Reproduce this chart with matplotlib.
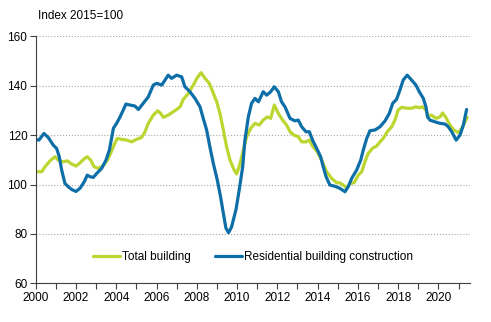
import matplotlib.pyplot as plt

plt.rcParams['font.family'] = ['Liberation Sans', 'DejaVu Sans']

# Total building
total_x = [2000.0, 2000.3, 2000.46, 2000.71, 2000.96, 2001.12, 2001.34, 2001.57, 2001.79, 2002.0,
           2002.2, 2002.4, 2002.56, 2002.73, 2002.9, 2003.11, 2003.33, 2003.56, 2003.72, 2003.89,
           2004.05, 2004.27, 2004.52, 2004.77, 2005.01, 2005.26, 2005.43, 2005.59, 2005.84, 2006.06,
           2006.21, 2006.34, 2006.58, 2006.83, 2007.0, 2007.17, 2007.33, 2007.58, 2007.83, 2008.0,
           2008.21, 2008.41, 2008.62, 2008.79, 2008.99, 2009.15, 2009.32, 2009.48, 2009.65, 2009.85,
           2009.98, 2010.14, 2010.31, 2010.48, 2010.68, 2010.89, 2011.1, 2011.3, 2011.5, 2011.67,
           2011.85, 2012.05, 2012.26, 2012.46, 2012.63, 2012.83, 2013.04, 2013.21, 2013.42, 2013.59,
           2013.75, 2013.98, 2014.2, 2014.45, 2014.7, 2014.95, 2015.11, 2015.27, 2015.44, 2015.61,
           2015.81, 2016.02, 2016.19, 2016.35, 2016.51, 2016.73, 2016.93, 2017.1, 2017.26, 2017.46,
           2017.68, 2017.84, 2018.0, 2018.17, 2018.42, 2018.67, 2018.88, 2019.05, 2019.22, 2019.38,
           2019.5, 2019.66, 2019.88, 2020.08, 2020.21, 2020.37, 2020.57, 2020.77, 2020.99, 2021.16,
           2021.32, 2021.43]
total_y = [105.2, 105.2, 107.2, 109.6, 111.3, 109.9, 109.2, 109.6, 108.3, 107.5,
           108.8, 110.4, 111.3, 109.9, 107.2, 106.6, 107.5, 109.9, 112.6, 116.0,
           118.7, 118.3, 118.0, 117.3, 118.3, 119.1, 121.4, 124.8, 128.1, 129.9,
           128.8, 127.2, 128.1, 129.5, 130.4, 131.5, 134.5, 136.9, 140.3, 143.0,
           145.3, 143.0, 141.0, 137.6, 133.5, 128.8, 122.1, 115.3, 109.9, 106.0,
           104.3, 108.2, 114.0, 119.4, 122.8, 124.8, 124.1, 126.1, 127.4, 126.8,
           132.2, 128.8, 126.1, 124.1, 121.4, 120.0, 119.4, 117.3, 117.3, 118.0,
           115.6, 113.3, 109.9, 105.2, 102.5, 100.7, 100.7, 99.8, 98.7, 100.5,
           100.7, 103.8, 105.2, 109.2, 112.6, 114.7, 115.6, 117.3, 118.7, 121.4,
           123.4, 126.1, 130.2, 131.3, 130.9, 130.9, 131.5, 131.1, 131.5, 130.2,
           127.7, 128.1, 126.8, 127.4, 129.0, 127.2, 124.1, 122.1, 121.0, 122.8,
           125.4, 127.2]

# Residential building construction
resid_x = [2000.0, 2000.16, 2000.41, 2000.63, 2000.87, 2001.04, 2001.17, 2001.29, 2001.45, 2001.62,
           2001.79, 2002.0, 2002.2, 2002.41, 2002.56, 2002.7, 2002.86, 2003.03, 2003.28, 2003.49,
           2003.66, 2003.86, 2004.02, 2004.19, 2004.35, 2004.48, 2004.68, 2004.93, 2005.1, 2005.34,
           2005.59, 2005.84, 2006.01, 2006.26, 2006.58, 2006.75, 2007.0, 2007.25, 2007.41, 2007.66,
           2007.91, 2008.16, 2008.32, 2008.49, 2008.65, 2008.82, 2009.02, 2009.18, 2009.32, 2009.45,
           2009.58, 2009.73, 2009.95, 2010.11, 2010.28, 2010.39, 2010.56, 2010.72, 2010.89, 2011.06,
           2011.3, 2011.47, 2011.67, 2011.85, 2012.05, 2012.21, 2012.38, 2012.63, 2012.87, 2013.04,
           2013.21, 2013.42, 2013.59, 2013.75, 2013.95, 2014.15, 2014.28, 2014.42, 2014.61, 2014.86,
           2015.1, 2015.36, 2015.52, 2015.69, 2015.94, 2016.14, 2016.27, 2016.44, 2016.6, 2016.85,
           2017.1, 2017.35, 2017.56, 2017.73, 2017.92, 2018.09, 2018.25, 2018.45, 2018.67, 2018.88,
           2019.05, 2019.25, 2019.38, 2019.46, 2019.58, 2019.83, 2020.08, 2020.33, 2020.49, 2020.66,
           2020.88, 2021.07, 2021.24, 2021.4]
resid_y = [118.3, 118.0, 120.7, 119.0, 116.0, 114.6, 111.3, 105.9, 100.5, 99.1,
           98.0, 97.2, 98.5, 101.1, 103.8, 103.2, 102.9, 104.5, 106.6, 109.9,
           114.0, 122.8, 124.8, 127.4, 130.2, 132.6, 132.2, 131.8, 130.4, 132.9,
           135.5, 140.3, 141.0, 140.3, 144.3, 143.0, 144.3, 143.6, 139.6, 137.6,
           134.9, 131.5, 126.8, 122.1, 115.3, 108.6, 101.8, 95.1, 88.3, 82.3,
           80.5, 82.9, 90.0, 98.0, 107.2, 118.0, 127.4, 132.9, 134.9, 133.5,
           137.6, 136.2, 137.6, 139.6, 137.6, 133.5, 131.5, 126.8, 125.8, 126.1,
           123.4, 121.4, 121.4, 118.0, 114.7, 111.3, 107.2, 103.2, 99.8, 99.3,
           98.5, 97.1, 99.1, 102.5, 105.9, 109.9, 114.0, 118.7, 121.8, 122.1,
           123.4, 125.8, 128.8, 132.9, 134.5, 138.3, 142.3, 144.3, 142.3, 140.3,
           137.6, 134.9, 131.5, 127.4, 126.1, 125.4, 124.8, 124.5, 123.4, 121.4,
           118.0, 120.0, 124.1, 130.4]

years = list(range(2000, 2022))
year_labels = [str(y) if y % 2 == 0 else '' for y in years]
y_ticks = [60, 80, 100, 120, 140, 160]

fig = plt.figure(figsize=(4.91, 3.22), dpi=100)
ax = fig.add_axes([0.0727, 0.120, 0.885, 0.767])

ax.plot(total_x, total_y, color='#bcd631', lw=2.3, label='Total building', solid_capstyle='round')
ax.plot(resid_x, resid_y, color='#0e6fa8', lw=2.3, label='Residential building construction',
        solid_capstyle='round')

ax.set_xlim(2000, 2021.58)
ax.set_ylim(60, 160)
ax.set_xticks(years)
ax.set_xticklabels(year_labels)
ax.set_yticks(y_ticks)
ax.tick_params(labelsize=8.5, length=4, width=0.8, color='#404040', pad=2)

ax.grid(axis='y', color='#a8a8a8', ls=':', lw=0.8)
ax.set_axisbelow(True)
for s in ['top', 'right']:
    ax.spines[s].set_visible(False)
for s in ['left', 'bottom']:
    ax.spines[s].set_color('#404040')
    ax.spines[s].set_linewidth(0.8)

ax.legend(loc='lower center', bbox_to_anchor=(0.5, 0.04), ncol=2, frameon=False,
          fontsize=8.5, handlelength=2.3, handletextpad=0.2, columnspacing=2.0)

fig.text(38 / 491, 1 - 16 / 322, 'Index 2015=100', fontsize=8.5, va='center')

plt.savefig('out.png', dpi=100)
